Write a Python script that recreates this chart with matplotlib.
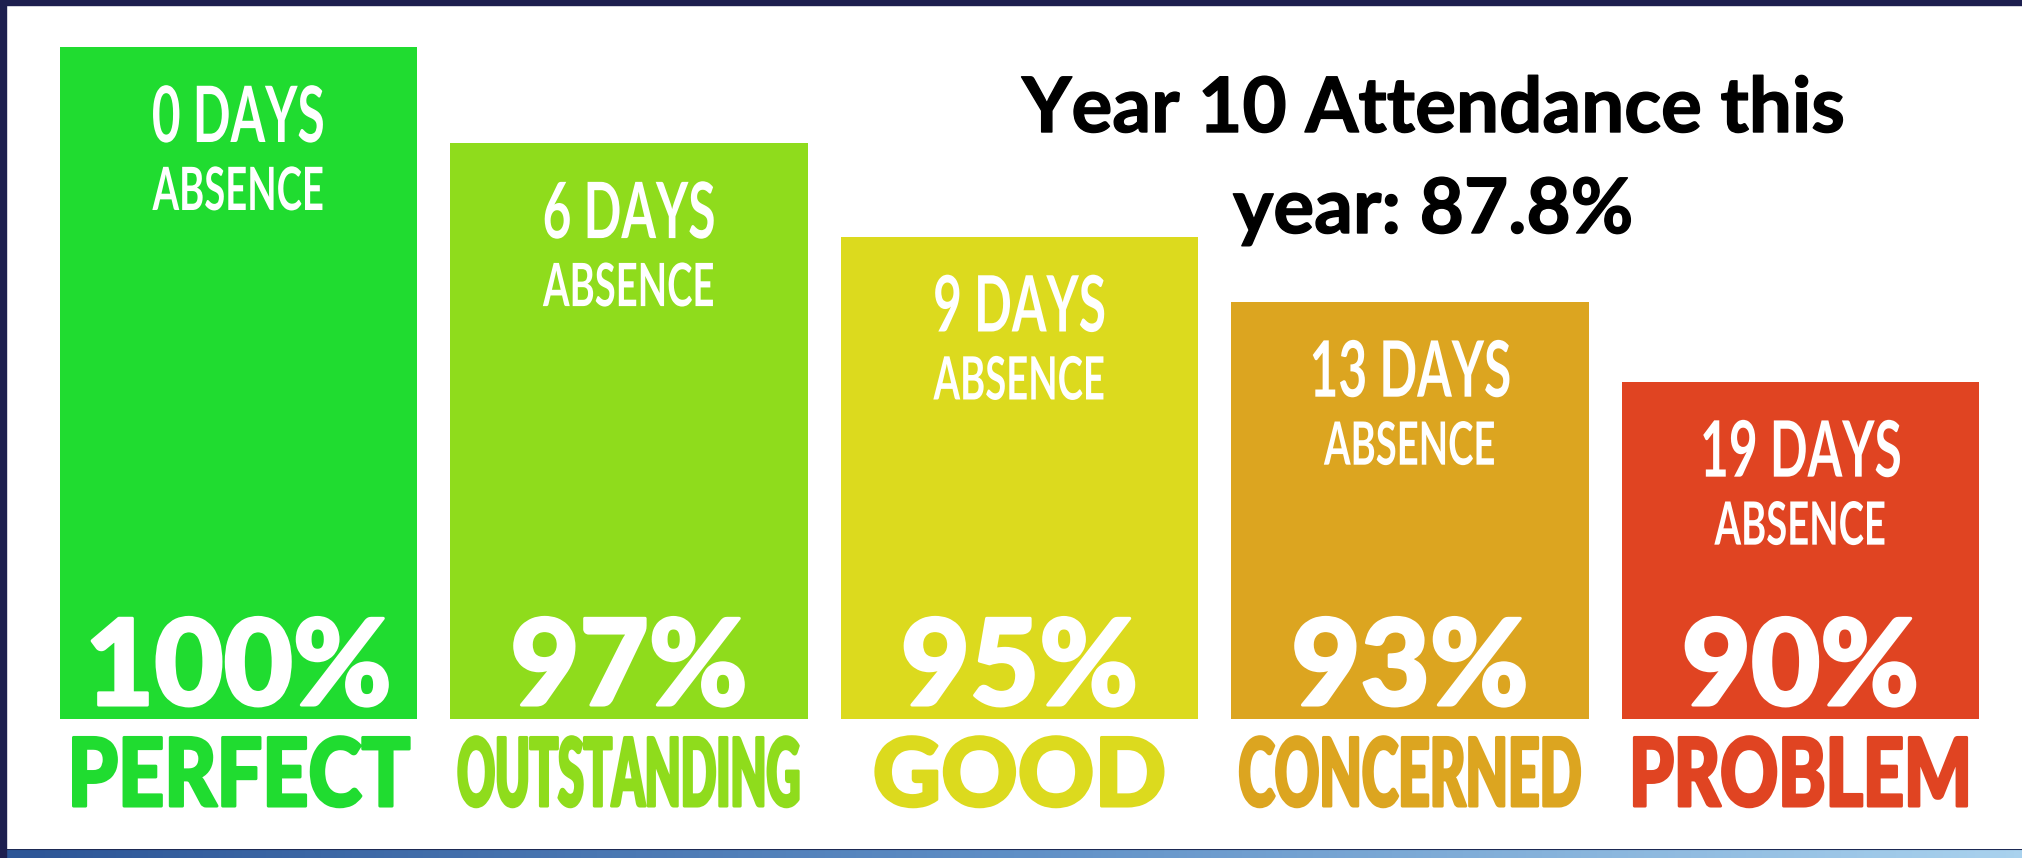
import numpy as np
import matplotlib
matplotlib.use("Agg")
import matplotlib.pyplot as plt
from matplotlib.patches import Rectangle
from matplotlib.patheffects import AbstractPathEffect
from matplotlib.transforms import Affine2D, Bbox, offset_copy
from matplotlib.text import Text
from matplotlib.colors import LinearSegmentedColormap

# data
categories = ['PERFECT', 'OUTSTANDING', 'GOOD', 'CONCERNED', 'PROBLEM']
attendance = [100, 97, 95, 93, 90]
days_absent = [0, 6, 9, 13, 19]
bar_heights = [100, 85.7, 71.8, 62.1, 50.2]   # relative bar heights (tallest = 100)
bar_colors = ['#20dc30', '#8fdc1c', '#dcda1e', '#dca520', '#e04422']
title_lines = ['Year 10 Attendance this', 'year: 87.8%']

W, H, DPI = 2022, 858, 100


class SqueezeX(AbstractPathEffect):
    """Compress glyphs horizontally around their centre, optionally fattening them."""

    def __init__(self, sx=1.0, stroke=0):
        super().__init__()
        self.sx = sx
        self.stroke = stroke

    def draw_path(self, renderer, gc, tpath, affine, rgbFace=None):
        ext = tpath.get_extents(affine)
        cx = 0.5 * (ext.x0 + ext.x1)
        aff = affine + Affine2D().translate(-cx, 0).scale(self.sx, 1).translate(cx, 0)
        if self.stroke:
            gc0 = renderer.new_gc()
            gc0.copy_properties(gc)
            gc0.set_linewidth(self.stroke)
            gc0.set_foreground(rgbFace)
            gc0.set_joinstyle('round')
            renderer.draw_path(gc0, tpath, aff, rgbFace)
            gc0.restore()
        else:
            renderer.draw_path(gc, tpath, aff, rgbFace)


class NarrowText(Text):
    """Text drawn squeezed; its extent reports the squeezed box."""

    def __init__(self, *args, sx=1.0, stroke=0, **kw):
        super().__init__(*args, **kw)
        self._stroke = stroke
        self.squeeze(sx)

    def squeeze(self, sx):
        self._sx = sx
        self.set_path_effects([SqueezeX(sx, self._stroke)])

    def natural_width(self, renderer):
        return Text.get_window_extent(self, renderer).width

    def get_window_extent(self, renderer=None, dpi=None):
        bb = Text.get_window_extent(self, renderer, dpi)
        cx = 0.5 * (bb.x0 + bb.x1)
        hw = 0.5 * bb.width * self._sx
        return Bbox([[cx - hw, bb.y0], [cx + hw, bb.y1]])


def add_text(target, x, y, s, dy_px=0, transform=None, sx=1.0, stroke=0, **kw):
    tr = offset_copy(transform, fig=fig, x=0, y=dy_px, units='dots')
    t = NarrowText(x, y, s, transform=tr, sx=sx, stroke=stroke, clip_on=False, **kw)
    target.add_artist(t)
    return t


def fit(t, width_px):
    r = fig.canvas.get_renderer()
    sx = min(1.0, width_px / t.natural_width(r))
    t.squeeze(sx)
    return sx


fig = plt.figure(figsize=(W / DPI, H / DPI), dpi=DPI)
fig.patch.set_facecolor('white')

# bars axes: baseline at y=719 px, top of tallest bar at y=47 px
base_px, top_px = 719, 47
ax = fig.add_axes([0, (H - base_px) / H, 1, (base_px - top_px) / H])
x = np.arange(len(categories))
unit = 390.5          # px between bar centres
x0 = 238.5            # px centre of the first bar
ax.set_xlim(-x0 / unit, (W - x0) / unit)
ax.set_ylim(0, 100)
ax.axis('off')
ax.bar(x, bar_heights, width=0.915, color=bar_colors, linewidth=0)

bar_w_px = 0.915 * unit
for i, (h, d, a, c, col) in enumerate(zip(bar_heights, days_absent, attendance,
                                          categories, bar_colors)):
    add_text(ax, i, h, f'{d} DAYS', dy_px=-95, transform=ax.transData, sx=0.64,
             ha='center', va='baseline', color='white', fontsize=56,
             family='Lato', fontweight='bold')
    add_text(ax, i, h, 'ABSENCE', dy_px=-163, transform=ax.transData, sx=0.64,
             ha='center', va='baseline', color='white', fontsize=43,
             family='Lato', fontweight='bold')
    add_text(ax, i, 0, f'{a}%', dy_px=14, transform=ax.transData, stroke=2.2,
             ha='center', va='baseline', color='white', fontsize=86,
             family='Lato', fontweight='black')
    lab = add_text(ax, i, 0, c, dy_px=-87, transform=ax.transData, stroke=2.2,
                   ha='center', va='baseline', color=col, fontsize=68,
                   family='Lato', fontweight='black')
    fit(lab, 0.96 * bar_w_px)

# title
tcx = 1433
t_a = add_text(fig, tcx / W, 1 - 132 / H, title_lines[0], transform=fig.transFigure,
               stroke=1, ha='center', va='baseline', fontsize=55, family='Lato',
               fontweight='bold', color='black')
t_b = add_text(fig, tcx / W, 1 - 233 / H, title_lines[1], transform=fig.transFigure,
               stroke=1, ha='center', va='baseline', fontsize=55, family='Lato',
               fontweight='bold', color='black')
t_b.squeeze(fit(t_a, 832))

# slide frame: navy top and left edges, blue gradient strip at the bottom
fig.patches.append(Rectangle((0, 1 - 5 / H), 1, 5 / H, transform=fig.transFigure,
                             color='#1d1f4f', zorder=5))
fig.patches.append(Rectangle((0, 0), 6 / W, 1, transform=fig.transFigure,
                             color='#1d1f4f', zorder=5))
band = fig.add_axes([6 / W, 0, 1 - 6 / W, 9 / H])
grad = np.linspace(0, 1, 256).reshape(1, -1)
cmap = LinearSegmentedColormap.from_list('band', ['#2c5596', '#5f8fc6', '#a9d2ee'])
band.imshow(grad, aspect='auto', cmap=cmap, extent=(0, 1, 0, 1))
band.axhline(1, color='#1d2a55', lw=1.5)
band.axis('off')

fig.savefig('out.png', dpi=DPI, facecolor='white')
